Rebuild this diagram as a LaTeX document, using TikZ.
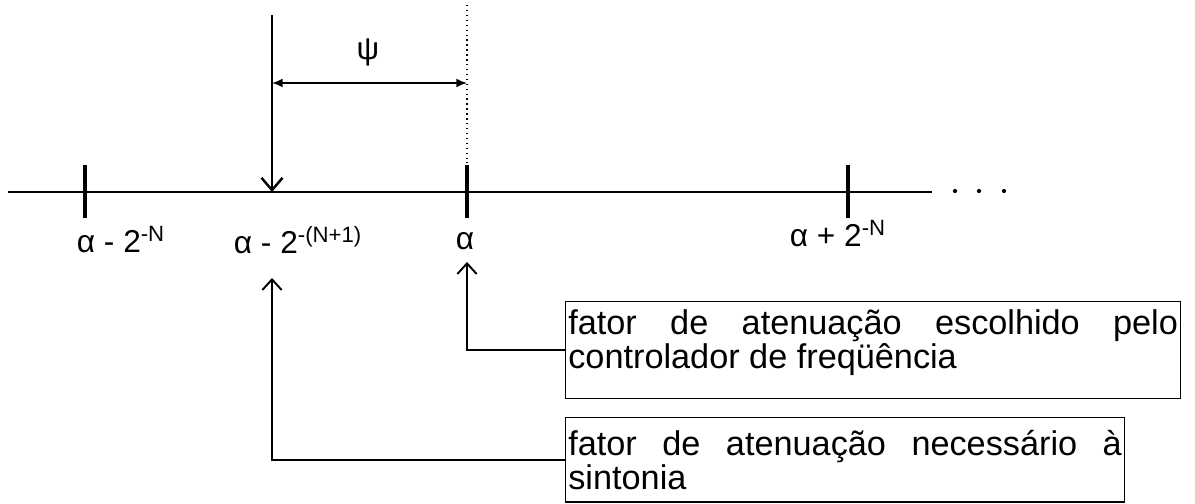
\documentclass[tikz,border=0pt]{standalone}
\usepackage{fontspec}
\setmainfont{Liberation Sans}
\usetikzlibrary{positioning}
\usetikzlibrary{arrows.meta}

\newcommand\boxfont{\fontsize{19.5}{19.5}\selectfont\hyphenpenalty=10000\relax\tolerance=10000\relax}

\tikzset{
    axisline/.style={line width=1.1pt},
    tick/.style={line width=2.2pt},
    lbl/.style={font=\fontsize{18}{20}\selectfont, inner sep=0pt},
    infobox/.style={draw, line width=0.8pt, anchor=north west, align=justify,
        inner xsep=1.5pt, inner ysep=0pt, font=\boxfont},
    pointer/.style={line width=1.1pt, -{Straight Barb[length=6pt,width=11pt,line width=1.1pt]}},
}

\begin{document}
\begin{tikzpicture}[x=0.02cm, y=-0.02cm]
    \useasboundingbox (0,0) rectangle (1195,503);

    % the line and its ticks
    \coordinate (axL) at (8,192);
    \coordinate (axR) at (932,192);
    \coordinate (tA) at (85,192);
    \coordinate (tB) at (467,192);
    \coordinate (tC) at (848,192);
    \coordinate (hit) at (272,192);
    \draw[axisline] (axL) -- (axR);
    \foreach \t in {tA,tB,tC}
        \draw[tick] ([yshift=15.6pt]\t) -- ([yshift=-15pt]\t);
    \foreach \d [count=\i] in {955,979,1004}
        \fill (\d,191) circle (1.2pt) coordinate (dot\i);

    \node[lbl] (lA) at (121,240) {α - 2\textsuperscript{-N}};
    \node[lbl] (lB) at (298,240) {α - 2\textsuperscript{-(N+1)}};
    \node[lbl] (lC) at (465,241) {α};
    \node[lbl] (lD) at (838,234) {α + 2\textsuperscript{-N}};

    % psi
    \coordinate (top) at (272,15);
    \coordinate (dotTop) at (467,5);
    \coordinate (dotBot) at (467,163);
    \draw[pointer, -{Straight Barb[length=7pt,width=12pt,line width=1.4pt]}] (top) -- (hit);
    \draw[dotted, line width=0.8pt] (dotTop) -- (dotBot);
    \coordinate (dimL) at (272,83);
    \coordinate (dimR) at (467,83);
    \draw[line width=1pt, {Latex[length=6pt,width=5pt]}-{Latex[length=6pt,width=5pt]}] (dimL) -- (dimR);
    \node[lbl] (psi) at (368,52) {ψ};

    % boxes
    \node[infobox, text width=347pt, minimum height=55pt] (box1) at (565,301)
        {fator de atenuação escolhido pelo controlador de freqüência\par\kern8pt};
    \node[infobox, text width=315pt, minimum height=48pt] (box2) at (565,417)
        {fator de atenuação necessário à sintonia};

    \coordinate (arrC) at (467,262);
    \coordinate (arrB) at (272,278);
    \draw[pointer] (box1.west) -| (arrC);
    \draw[pointer] (box2.west) -| (arrB);
\end{tikzpicture}
\end{document}
